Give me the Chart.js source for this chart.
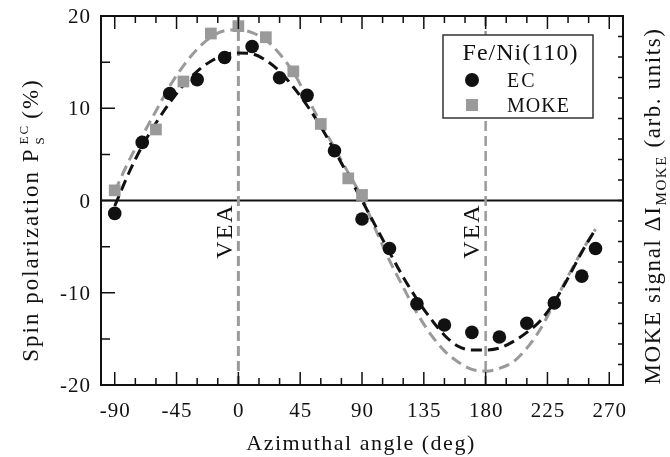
<!DOCTYPE html>
<html>
<head>
<meta charset="utf-8">
<script src="https://cdn.jsdelivr.net/npm/chart.js@4.4.0/dist/chart.umd.min.js"></script>
<style>
html, body { margin: 0; padding: 0; background: #fff; }
#wrap { width: 670px; height: 457px; }
</style>
</head>
<body>
<div id="wrap"><canvas id="chart"></canvas></div>
<script>
// puntos medidos EC
const ecAngle = [-90, -70, -50, -30, -10, 10, 30, 50, 70, 90, 110, 130, 150, 170, 190, 210, 230, 250, 260];
const ecValue = [-1.4, 6.3, 11.6, 13.1, 15.5, 16.7, 13.3, 11.4, 5.4, -2.0, -5.2, -11.2, -13.5, -14.3, -14.8, -13.3, -11.1, -8.2, -5.2];
// puntos medidos MOKE
const mokeAngle = [-90, -60, -40, -20, 0, 20, 40, 60, 80, 90];
const mokeValue = [1.1, 7.7, 12.9, 18.1, 18.9, 17.7, 14.0, 8.3, 2.4, 0.6];
// curvas de ajuste
const fitAngle = [-90, -80, -70, -60, -50, -40, -30, -20, -10, 0, 10, 20, 30, 40, 50, 60, 70, 80, 90,
    100, 110, 120, 130, 140, 150, 160, 170, 180, 190, 200, 210, 220, 230, 240, 250, 260];
const ecFit = [-0.6, 2.9, 5.9, 8.4, 10.6, 12.5, 14.0, 15.1, 15.8, 16.0, 15.9, 15.2, 14.0, 12.3, 10.3, 8.0, 5.4, 2.7, 0.0,
    -2.8, -5.6, -8.3, -10.7, -12.8, -14.6, -15.8, -16.2, -16.2, -16.0, -15.3, -14.3, -13.0, -11.0, -8.4, -5.6, -3.1];
const mokeFit = [1.0, 4.2, 7.0, 9.7, 12.4, 14.6, 16.4, 17.7, 18.4, 18.5, 18.2, 17.4, 15.9, 13.9, 11.2, 8.4, 5.7, 3.0, 0.3,
    -3.2, -6.5, -9.4, -12.2, -14.5, -16.3, -17.5, -18.3, -18.5, -18.2, -17.5, -16.0, -13.9, -11.1, -8.2, -5.5, -3.1];
// ejes
const xTicks = [-90, -45, 0, 45, 90, 135, 180, 225, 270];
const yTicks = [20, 10, 0, -10, -20];
const veaAngle = [0, 180];

const negro = '#111111';
const gris = '#9a9a9a';
const serif = "'Liberation Serif', 'Times New Roman', Times, serif";

const toXY = (xs, ys) => xs.map((v, k) => ({ x: v, y: ys[k] }));

// texto con espaciado
function texto(ctx, str, x, y, size, spacing, align) {
    ctx.font = size + 'px ' + serif;
    ctx.letterSpacing = spacing + 'px';
    ctx.textAlign = align || 'left';
    ctx.fillText(str, x, y);
}
// titulo rotado; partes = [[texto, size, dy]] o [[sup, sub, size]] apilados
function tituloVertical(ctx, partes, cx, cy, spacing) {
    ctx.save();
    ctx.translate(cx, cy);
    ctx.rotate(-Math.PI / 2);
    ctx.letterSpacing = spacing + 'px';
    ctx.textAlign = 'left';
    const ancho = p => {
        if (p.length == 3 && typeof p[1] == 'number') {
            ctx.font = p[1] + 'px ' + serif;
            return ctx.measureText(p[0]).width;
        }
        ctx.font = p[2] + 'px ' + serif;
        return Math.max(ctx.measureText(p[0]).width, ctx.measureText(p[1]).width) + 8;
    };
    let total = 0;
    partes.forEach(p => total += ancho(p));
    let pos = -total / 2;
    partes.forEach(p => {
        const w = ancho(p);
        if (typeof p[1] == 'number') {
            ctx.fillText(p[0], pos, p[2]);
        } else {
            ctx.fillText(p[0], pos + 3, -10);
            ctx.fillText(p[1], pos + 3, 6);
        }
        pos += w;
    });
    ctx.restore();
}

const marcos = {
    id: 'marcos',
    beforeDatasetsDraw(chart) {
        const { ctx, chartArea: { left, right, top, bottom }, scales: { x, y } } = chart;
        ctx.save();
        //linea de cero
        ctx.strokeStyle = negro;
        ctx.lineWidth = 2;
        ctx.beginPath();
        ctx.moveTo(left, y.getPixelForValue(0));
        ctx.lineTo(right, y.getPixelForValue(0));
        ctx.stroke();
        //lineas VEA
        ctx.strokeStyle = gris;
        ctx.setLineDash([10, 5]);
        veaAngle.forEach((a, k) => {
            ctx.lineWidth = k == 0 ? 3 : 2.5;
            const px = x.getPixelForValue(a);
            ctx.beginPath();
            ctx.moveTo(px, top);
            ctx.lineTo(px, bottom);
            ctx.stroke();
        });
        ctx.restore();
    },
    afterDraw(chart) {
        const { ctx, chartArea: { left, right, top, bottom }, scales: { x, y, y2 } } = chart;
        ctx.save();
        ctx.strokeStyle = negro;
        ctx.fillStyle = negro;
        ctx.lineWidth = 2;
        ctx.strokeRect(left, top, right - left, bottom - top);
        //ticks x arriba y abajo
        ctx.lineWidth = 1.5;
        ctx.beginPath();
        for (let v = -90; v <= 270; v += 15) {
            const px = x.getPixelForValue(v);
            const len = v % 45 == 0 ? 13 : 7;
            ctx.moveTo(px, bottom); ctx.lineTo(px, bottom - len);
            ctx.moveTo(px, top); ctx.lineTo(px, top + len);
        }
        //ticks y izquierda
        for (let v = -15; v <= 15; v += 5) {
            const py = y.getPixelForValue(v);
            const len = v % 10 == 0 ? 14 : 9;
            ctx.moveTo(left, py); ctx.lineTo(left + len, py);
        }
        //ticks y derecha
        for (let v = -8; v <= 8; v++) {
            const py = y2.getPixelForValue(v);
            ctx.moveTo(right, py); ctx.lineTo(right - 5, py);
        }
        ctx.stroke();
        //etiquetas
        xTicks.forEach(v => texto(ctx, String(v), x.getPixelForValue(v) + 0.5, 416.5, 21, 1, 'center'));
        yTicks.forEach(v => texto(ctx, String(v), 91, y.getPixelForValue(v) + 7, 21, 1, 'right'));
        texto(ctx, 'Azimuthal angle (deg)', 361, 449.5, 22, 1.5, 'center');
        tituloVertical(ctx, [
            ['Spin polarization P', 23, 0],
            ['EC', 'S', 13],
            ['(%)', 23, 0]
        ], 38, 220, 2);
        tituloVertical(ctx, [
            ['MOKE signal \u0394I', 23, 0],
            ['MOKE', 15, 6],
            [' (arb. units)', 23, 0]
        ], 660, 206, 1.6);
        //VEA
        veaAngle.forEach(a => {
            ctx.save();
            ctx.translate(x.getPixelForValue(a) - 6.5, 231);
            ctx.rotate(-Math.PI / 2);
            texto(ctx, 'VEA', 0, 0, 24, 2, 'center');
            ctx.restore();
        });
        //leyenda
        ctx.fillStyle = '#ffffff';
        ctx.fillRect(443, 35, 150, 83);
        ctx.strokeStyle = '#333333';
        ctx.lineWidth = 1.5;
        ctx.strokeRect(443, 35, 150, 83);
        ctx.fillStyle = negro;
        texto(ctx, 'Fe/Ni(110)', 520.5, 59.5, 24, 1, 'center');
        ctx.beginPath();
        ctx.arc(472, 80, 7, 0, Math.PI * 2);
        ctx.fill();
        texto(ctx, 'EC', 507, 87, 20, 2, 'left');
        texto(ctx, 'MOKE', 507, 112, 20, 1, 'left');
        ctx.fillStyle = gris;
        ctx.fillRect(466, 99, 12, 12);
        ctx.restore();
    }
};

const data = {
    datasets: [{
        label: 'EC',
        data: toXY(ecAngle, ecValue),
        showLine: false,
        pointStyle: 'circle',
        pointRadius: 6.8,
        backgroundColor: negro,
        borderWidth: 0,
        order: 1
    }, {
        label: 'MOKE',
        data: toXY(mokeAngle, mokeValue),
        showLine: false,
        pointStyle: 'rect',
        pointRadius: 8.3,
        backgroundColor: gris,
        borderWidth: 0,
        order: 2
    }, {
        label: 'EC fit',
        data: toXY(fitAngle, ecFit),
        showLine: true,
        borderColor: negro,
        borderWidth: 3,
        borderDash: [11, 6],
        pointRadius: 0,
        cubicInterpolationMode: 'monotone',
        order: 3
    }, {
        label: 'MOKE fit',
        data: toXY(fitAngle, mokeFit),
        showLine: true,
        borderColor: gris,
        borderWidth: 3,
        borderDash: [11, 6],
        pointRadius: 0,
        cubicInterpolationMode: 'monotone',
        order: 4
    }]
};

const config = {
    type: 'scatter',
    data,
    options: {
        responsive: true,
        maintainAspectRatio: false,
        animation: false,
        devicePixelRatio: 1,
        layout: { padding: { top: 16, left: 0, right: 0, bottom: 0 } },
        plugins: { legend: { display: false }, tooltip: { enabled: false } },
        scales: {
            x: {
                type: 'linear', min: -100, max: 280,
                grid: { display: false }, border: { display: false }, ticks: { display: false },
                afterFit(s) { s.height = 72; }
            },
            y: {
                position: 'left', min: -20, max: 20,
                grid: { display: false }, border: { display: false }, ticks: { display: false },
                afterFit(s) { s.width = 101; }
            },
            y2: {
                position: 'right', min: -9, max: 9,
                grid: { display: false }, border: { display: false }, ticks: { display: false },
                afterFit(s) { s.width = 47; }
            }
        }
    },
    plugins: [marcos]
};
var myChart = new Chart(document.getElementById('chart'), config);
</script>
</body>
</html>
